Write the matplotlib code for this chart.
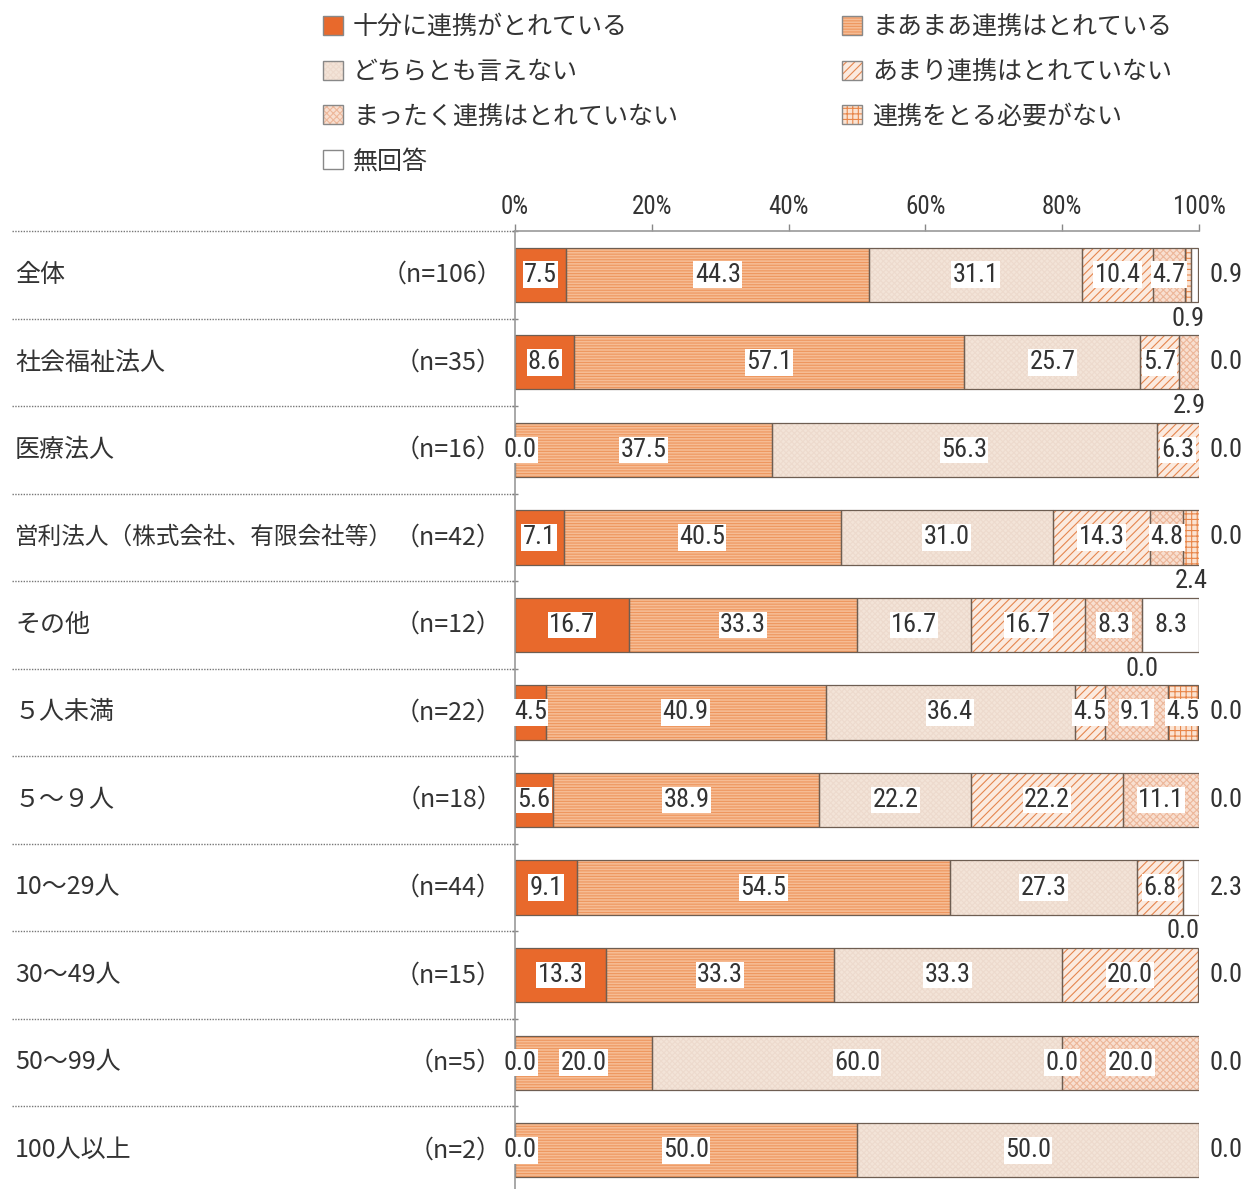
import matplotlib
matplotlib.use("Agg")
import matplotlib.pyplot as plt
import matplotlib.transforms as mtransforms
from matplotlib import font_manager
from matplotlib.patches import Patch
from matplotlib.legend_handler import HandlerTuple

plt.rcParams["font.family"] = ["Noto Sans CJK JP", "DejaVu Sans"]
plt.rcParams["hatch.linewidth"] = 0.8

# narrow face for the numbers, if one is around
_names = {f.name for f in font_manager.fontManager.ttflist}
NUM_FONT = next(
    (n for n in ["Roboto Condensed", "Liberation Sans Narrow", "Open Sans Condensed"] if n in _names),
    "DejaVu Sans",
)

groups = [
    "全体", "社会福祉法人", "医療法人", "営利法人（株式会社、有限会社等）", "その他",
    "５人未満", "５～９人", "10～29人", "30～49人", "50～99人", "100人以上",
]
group_n = [106, 35, 16, 42, 12, 22, 18, 44, 15, 5, 2]

responses = [
    "十分に連携がとれている", "まあまあ連携はとれている", "どちらとも言えない",
    "あまり連携はとれていない", "まったく連携はとれていない", "連携をとる必要がない", "無回答",
]

fully = [7.5, 8.6, 0.0, 7.1, 16.7, 4.5, 5.6, 9.1, 13.3, 0.0, 0.0]
mostly = [44.3, 57.1, 37.5, 40.5, 33.3, 40.9, 38.9, 54.5, 33.3, 20.0, 50.0]
neutral = [31.1, 25.7, 56.3, 31.0, 16.7, 36.4, 22.2, 27.3, 33.3, 60.0, 50.0]
hardly = [10.4, 5.7, 6.3, 14.3, 16.7, 4.5, 22.2, 6.8, 20.0, 0.0, 0.0]
not_at_all = [4.7, 2.9, 0.0, 4.8, 8.3, 9.1, 11.1, 0.0, 0.0, 20.0, 0.0]
no_need = [0.9, 0.0, 0.0, 2.4, 0.0, 4.5, 0.0, 0.0, 0.0, 0.0, 0.0]
no_answer = [0.9, 0.0, 0.0, 0.0, 8.3, 0.0, 0.0, 2.3, 0.0, 0.0, 0.0]
series = [fully, mostly, neutral, hardly, not_at_all, no_need, no_answer]

# where each value label sits: i = inside, b = below bar, r = right of bar, - = none
label_pos = [
    "iiiiibr", "iiiib-r", "iiii--r", "iiiiibr", "iiiiibi", "iiiiiir",
    "iiiii-r", "iiiib-r", "iiii--r", "iiiii-r", "iii---r",
]

# face, hatch pattern, hatch colour
styles = [
    ("#E8692C", None, None),
    ("#F6BC94", "------", "#EE965E"),
    ("#F3E4D8", "xxxxxx", "#EDDACD"),
    ("#FBEADF", "////", "#E5864F"),
    ("#F8DFD0", "xxxxx", "#EDB79A"),
    ("#FBE3D2", "+++", "#E8864A"),
    ("#FFFFFF", None, None),
]
EDGE = "#6E5E52"
TEXT = "#333333"
NUM_SIZE = 19

W, H = 1254, 1189
fig = plt.figure(figsize=(W / 100, H / 100), dpi=100)
ax = fig.add_axes([515 / W, 1 - 1194 / H, 684 / W, (1194 - 231) / H])

bar_h = 0.62
rows = range(len(groups))
left = [0.0] * len(groups)
for k, vals in enumerate(series):
    face, hatch, hcol = styles[k]
    for r in rows:
        v = vals[r]
        if v > 0:
            ax.barh(r, v, left=left[r], height=bar_h, color=face, lw=0, zorder=2)
            if hatch:
                ax.barh(r, v, left=left[r], height=bar_h, facecolor="none",
                        edgecolor=hcol, hatch=hatch, lw=0, zorder=2.1)
            ax.barh(r, v, left=left[r], height=bar_h, fill=False,
                    edgecolor=EDGE, lw=0.9, zorder=2.2)
        pos = label_pos[r][k]
        txt = f"{v:.1f}"
        if pos == "i":
            # keep a zero at the very start clear of the axis line
            cx = max(left[r] + v / 2, 0.8)
            ax.text(cx, r, txt, ha="center", va="center", fontsize=NUM_SIZE,
                    family=NUM_FONT, color=TEXT, zorder=5,
                    bbox=dict(facecolor="white", edgecolor="none", pad=1.0))
        elif pos == "b":
            ax.text(left[r] + v / 2, r + 0.5, txt, ha="center", va="center",
                    fontsize=NUM_SIZE, family=NUM_FONT, color=TEXT, zorder=5)
        elif pos == "r":
            ax.text(101.5, r, txt, ha="left", va="center", fontsize=NUM_SIZE,
                    family=NUM_FONT, color=TEXT, zorder=5, clip_on=False)
        left[r] += v

ax.set_xlim(0, 100)
ax.set_ylim(len(groups) - 0.5, -0.5)
ax.xaxis.tick_top()
ax.set_xticks(range(0, 101, 20))
ax.set_xticklabels([f"{t}%" for t in range(0, 101, 20)], family=NUM_FONT)
ax.tick_params(axis="x", direction="out", length=5, width=1, color="#888888",
               labelsize=18, labelcolor=TEXT, pad=4)
bounds = [r - 0.5 for r in range(len(groups) + 1)]
ax.set_yticks(bounds)
ax.set_yticklabels([])
ax.tick_params(axis="y", direction="inout", length=5, width=1, color="#888888")
for side in ("right", "bottom"):
    ax.spines[side].set_visible(False)
for side in ("top", "left"):
    ax.spines[side].set_color("#999999")
    ax.spines[side].set_linewidth(1.2)

# row captions and dotted separators to the left of the plot
trans = mtransforms.blended_transform_factory(fig.transFigure, ax.transData)
for r, (name, n) in enumerate(zip(groups, group_n)):
    ax.text(15 / W, r, name, transform=trans, ha="left", va="center",
            fontsize=18 if len(name) < 12 else 17, color=TEXT, clip_on=False)
    ax.text(502 / W, r, f"（n={n}）", transform=trans, ha="right", va="center",
            fontsize=18, color=TEXT, clip_on=False)
for b in bounds[:-1]:
    ax.plot([12 / W, 515 / W], [b, b], transform=trans, color="#777777",
            lw=1.0, ls=(0, (1, 1)), clip_on=False)

handles = []
for face, hatch, hcol in styles:
    parts = [Patch(facecolor=face, edgecolor="none", lw=0)]
    if hatch:
        parts.append(Patch(facecolor="none", edgecolor=hcol, hatch=hatch, lw=0))
    parts.append(Patch(fill=False, edgecolor="#888888", lw=1))
    handles.append(tuple(parts))
order = [0, 2, 4, 6, 1, 3, 5]
fig.legend([handles[i] for i in order], [responses[i] for i in order],
           handler_map={tuple: HandlerTuple(ndivide=1, pad=0)},
           ncol=2, loc="upper left", mode="expand",
           bbox_to_anchor=(323 / W, 1 - 14 / H, (1172 - 323) / W, 0),
           frameon=False, fontsize=18, handlelength=0.8, handleheight=0.8,
           handletextpad=0.4, labelspacing=0.75, borderpad=0, borderaxespad=0,
           labelcolor=TEXT)

fig.savefig("out.png", dpi=100)
